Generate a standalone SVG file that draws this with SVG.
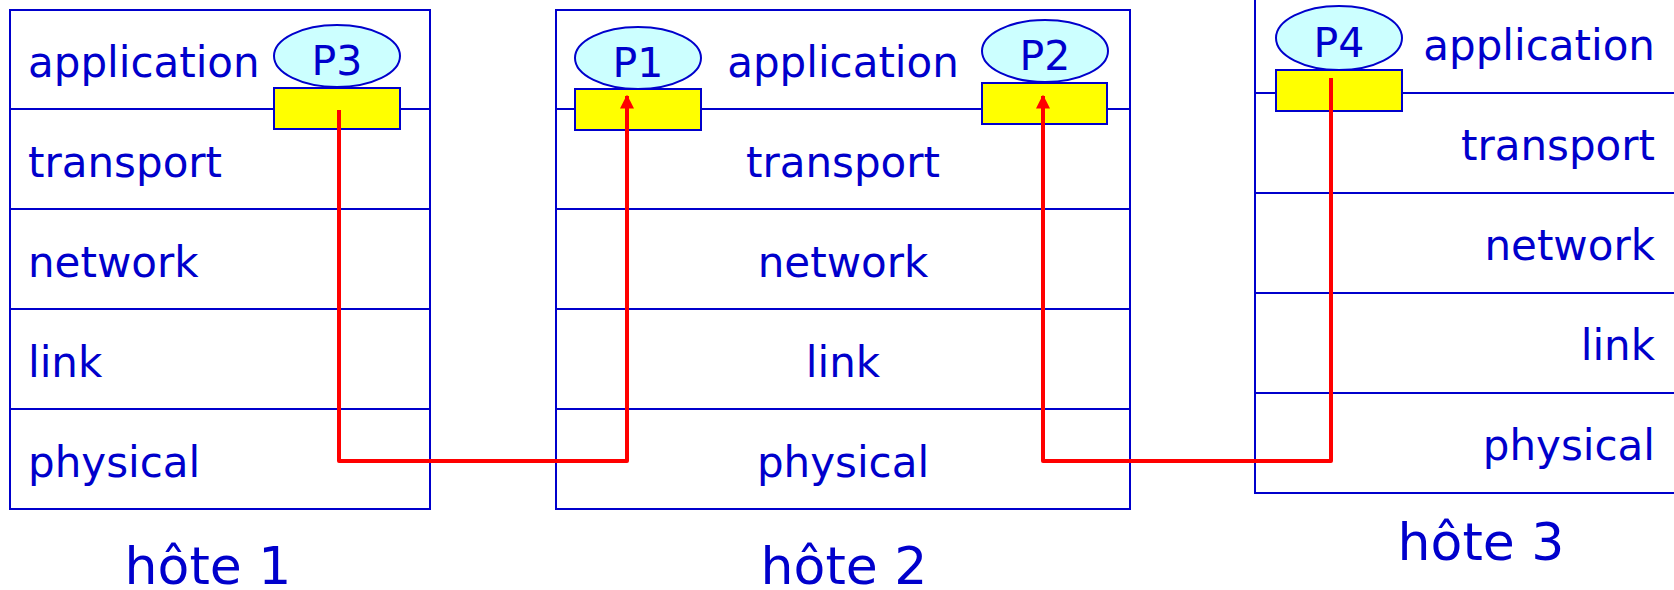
<svg xmlns="http://www.w3.org/2000/svg" width="1674" height="590" viewBox="0 0 1674 590">
  <style>
    .box { fill: #ffffff; stroke: #0000cc; stroke-width: 2; }
    .sep { stroke: #0000cc; stroke-width: 2; }
    .layer { font-family: "DejaVu Sans", sans-serif; font-size: 42px; fill: #0000cc; }
    .proc { fill: #ccffff; stroke: #0000cc; stroke-width: 2; }
    .pname { font-family: "DejaVu Sans", sans-serif; font-size: 41px; fill: #0000cc; text-anchor: middle; }
    .sock { fill: #ffff00; stroke: #0000cc; stroke-width: 2; }
    .host { font-family: "DejaVu Sans", sans-serif; font-size: 52px; fill: #0000cc; text-anchor: middle; }
    .flow { fill: none; stroke: #ff0000; stroke-width: 4; stroke-linejoin: round; }
  </style>
  <defs>
    <marker id="arrow" viewBox="0 0 10 10" refX="9" refY="5" markerWidth="3.5" markerHeight="3.5" orient="auto" markerUnits="strokeWidth">
      <path d="M0,0 L10,5 L0,10 Z" fill="#ff0000"/>
    </marker>
  </defs>
  <rect width="1674" height="590" fill="#ffffff"/>

  <!-- host 1 : protocol stack, labels left-aligned -->
  <g id="host1">
    <rect class="box" x="10" y="10" width="420" height="499"/>
    <line class="sep" x1="10" y1="109" x2="430" y2="109"/>
    <line class="sep" x1="10" y1="209" x2="430" y2="209"/>
    <line class="sep" x1="10" y1="309" x2="430" y2="309"/>
    <line class="sep" x1="10" y1="409" x2="430" y2="409"/>
    <text class="layer" x="28" y="77">application</text>
    <text class="layer" x="28" y="177">transport</text>
    <text class="layer" x="28" y="277">network</text>
    <text class="layer" x="28" y="377">link</text>
    <text class="layer" x="28" y="477">physical</text>
    <text class="host" x="208" y="584">hôte 1</text>
  </g>

  <!-- host 2 : labels centred -->
  <g id="host2">
    <rect class="box" x="556" y="10" width="574" height="499"/>
    <line class="sep" x1="556" y1="109" x2="1130" y2="109"/>
    <line class="sep" x1="556" y1="209" x2="1130" y2="209"/>
    <line class="sep" x1="556" y1="309" x2="1130" y2="309"/>
    <line class="sep" x1="556" y1="409" x2="1130" y2="409"/>
    <text class="layer" x="843" y="77" text-anchor="middle">application</text>
    <text class="layer" x="843" y="177" text-anchor="middle">transport</text>
    <text class="layer" x="843" y="277" text-anchor="middle">network</text>
    <text class="layer" x="843" y="377" text-anchor="middle">link</text>
    <text class="layer" x="843" y="477" text-anchor="middle">physical</text>
    <text class="host" x="844" y="584">hôte 2</text>
  </g>

  <!-- host 3 : shifted up, labels right-aligned -->
  <g id="host3">
    <rect class="box" x="1255" y="-7" width="420" height="500"/>
    <line class="sep" x1="1255" y1="93" x2="1675" y2="93"/>
    <line class="sep" x1="1255" y1="193" x2="1675" y2="193"/>
    <line class="sep" x1="1255" y1="293" x2="1675" y2="293"/>
    <line class="sep" x1="1255" y1="393" x2="1675" y2="393"/>
    <text class="layer" x="1655" y="60" text-anchor="end">application</text>
    <text class="layer" x="1655" y="160" text-anchor="end">transport</text>
    <text class="layer" x="1655" y="260" text-anchor="end">network</text>
    <text class="layer" x="1655" y="360" text-anchor="end">link</text>
    <text class="layer" x="1655" y="460" text-anchor="end">physical</text>
    <text class="host" x="1481" y="560">hôte 3</text>
  </g>

  <!-- processes with their sockets -->
  <g id="p3">
    <rect class="sock" x="274" y="88" width="126" height="41"/>
    <ellipse class="proc" cx="337" cy="56" rx="63" ry="31"/>
    <text class="pname" x="337" y="75">P3</text>
  </g>
  <g id="p1">
    <rect class="sock" x="575" y="89" width="126" height="41"/>
    <ellipse class="proc" cx="638" cy="58" rx="63" ry="31"/>
    <text class="pname" x="638" y="77">P1</text>
  </g>
  <g id="p2">
    <rect class="sock" x="982" y="83" width="125" height="41"/>
    <ellipse class="proc" cx="1045" cy="51" rx="63" ry="31"/>
    <text class="pname" x="1045" y="70">P2</text>
  </g>
  <g id="p4">
    <rect class="sock" x="1276" y="70" width="126" height="41"/>
    <ellipse class="proc" cx="1339" cy="38" rx="63" ry="32"/>
    <text class="pname" x="1339" y="57">P4</text>
  </g>

  <!-- connectors: data paths between sockets, drawn over the sockets -->
  <g id="connectors">
    <polyline class="flow" points="339,110 339,461 627,461 627,96" marker-end="url(#arrow)"/>
    <polyline class="flow" points="1331,78 1331,461 1043,461 1043,96" marker-end="url(#arrow)"/>
  </g>
</svg>
